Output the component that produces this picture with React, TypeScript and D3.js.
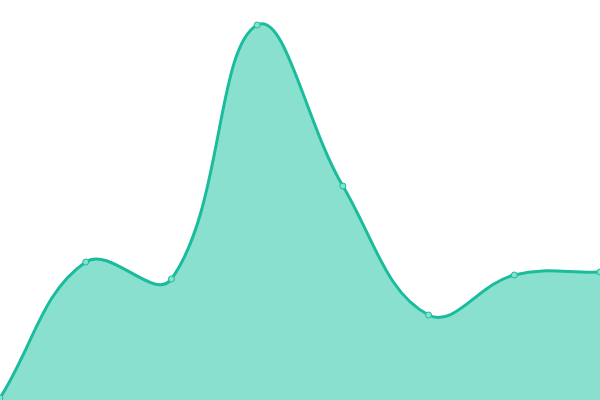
import React from "react";
import * as d3 from "d3";

const labels = ["A", "B", "C", "D", "E", "F", "G", "H"];
const values = [2, 138, 121, 375, 214, 85, 125, 128];

const W = 600;
const H = 400;
const LINE = "#1abc9c";
const FILL = "#89e0cf";

function splinePath(pts: [number, number][], t: number, closeTo?: number) {
  const p = d3.path();
  const cps: { p: [number, number]; n: [number, number] }[] = pts.map((cur, i) => {
    const prev = pts[i - 1] || cur;
    const next = pts[i + 1] || cur;
    const d01 = Math.hypot(cur[0] - prev[0], cur[1] - prev[1]);
    const d12 = Math.hypot(next[0] - cur[0], next[1] - cur[1]);
    let s01 = d01 / (d01 + d12);
    let s12 = d12 / (d01 + d12);
    if (isNaN(s01)) s01 = 0;
    if (isNaN(s12)) s12 = 0;
    const fa = t * s01;
    const fb = t * s12;
    const cp1: [number, number] = [cur[0] - fa * (next[0] - prev[0]), cur[1] - fa * (next[1] - prev[1])];
    const cp2: [number, number] = [cur[0] + fb * (next[0] - prev[0]), cur[1] + fb * (next[1] - prev[1])];
    const clamp = (c: [number, number]): [number, number] => [
      Math.max(0, Math.min(W, c[0])),
      Math.max(0, Math.min(H, c[1])),
    ];
    return { p: clamp(cp1), n: clamp(cp2) };
  });
  p.moveTo(pts[0][0], pts[0][1]);
  for (let i = 1; i < pts.length; i++) {
    const a = cps[i - 1].n;
    const b = cps[i].p;
    p.bezierCurveTo(a[0], a[1], b[0], b[1], pts[i][0], pts[i][1]);
  }
  if (closeTo !== undefined) {
    p.lineTo(pts[pts.length - 1][0], closeTo);
    p.lineTo(pts[0][0], closeTo);
    p.closePath();
  }
  return p.toString();
}

export default function App() {
  const x = d3.scalePoint<string>().domain(labels).range([0, W]);
  const y = d3.scaleLinear().domain([0, 400]).range([H, 0]);
  const pts: [number, number][] = values.map((v, i) => [x(labels[i]) as number, y(v)]);
  return (
    <svg
      width={W}
      height={H}
      style={{ position: "absolute", left: 0, top: 0, display: "block" }}
    >
      <rect width={W} height={H} fill="#ffffff" />
      <path d={splinePath(pts, 0.4, H)} fill={FILL} stroke="none" />
      <path d={splinePath(pts, 0.4)} fill="none" stroke={LINE} strokeWidth={3} />
      {pts.map((pt, i) => (
        <circle key={i} cx={pt[0]} cy={pt[1]} r={3} fill={FILL} stroke={LINE} strokeWidth={1} />
      ))}
    </svg>
  );
}
